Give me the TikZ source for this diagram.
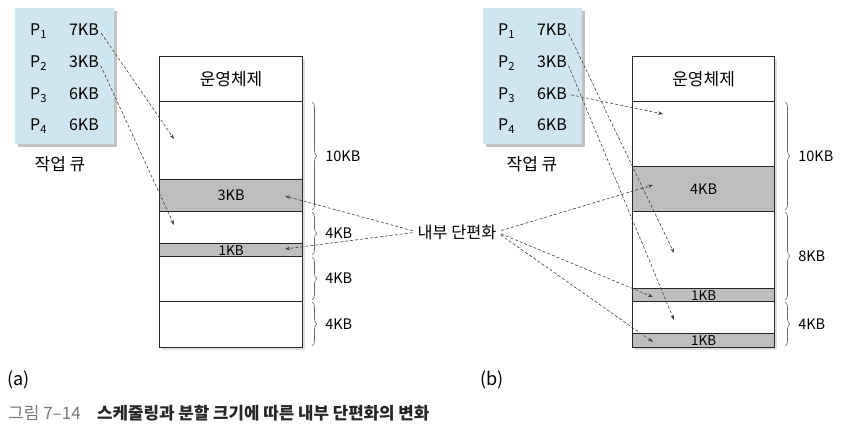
\documentclass[tikz,border=0pt]{standalone}
\usepackage{fontspec}
\setmainfont{Noto Sans CJK KR}
\usetikzlibrary{arrows.meta,decorations.pathreplacing,shadows}
\definecolor{qblue}{RGB}{207,229,239}
\definecolor{memgray}{RGB}{190,190,192}
\definecolor{capgray}{RGB}{120,120,120}
\newcommand{\fsz}[1]{\fontsize{#1}{#1}\selectfont}
\tikzset{
  mem/.style={draw=black!85, line width=1.2pt, minimum width=143pt, anchor=north west, inner sep=0pt, font=\fsz{14.5}},
  memw/.style={mem, fill=white},
  memg/.style={mem, fill=memgray},
  qbox/.style={fill=qblue, anchor=north west, minimum width=99pt, minimum height=136pt, inner sep=0pt,
    drop shadow={shadow xshift=2.5pt, shadow yshift=-2.5pt, opacity=0.4, fill=black!60}},
  qt/.style={inner sep=0pt, font=\fsz{16}},
  darr/.style={dash pattern=on 3pt off 2pt, draw=black!75, line width=0.6pt, -{Stealth[length=5pt,width=3.5pt]}},
  brc/.style={decorate, decoration={brace, amplitude=5pt}, draw=black!60, line width=0.6pt},
  lbl/.style={font=\fsz{14.5}, inner sep=0pt, anchor=west},
}
\begin{document}
\begin{tikzpicture}[x=1pt,y=-1pt]
\useasboundingbox (0,0) rectangle (842,434);
% ---------- (a) queue ----------
\node[qbox] (qa) at (15,8) {};
\node[qt, anchor=west] (pa1) at (30,31) {P\textsubscript{1}};
\node[qt, anchor=west] (pa2) at (30,63) {P\textsubscript{2}};
\node[qt, anchor=west] (pa3) at (30,95) {P\textsubscript{3}};
\node[qt, anchor=west] (pa4) at (30,126) {P\textsubscript{4}};
\node[qt, anchor=east] (ka1) at (99,30) {7KB};
\node[qt, anchor=east] (ka2) at (99,62) {3KB};
\node[qt, anchor=east] (ka3) at (99,94) {6KB};
\node[qt, anchor=east] (ka4) at (99,125) {6KB};
\node[font=\fsz{17}, inner sep=0pt] (jqa) at (60,164) {작업 큐};
% ---------- (a) memory ----------
\fill[black!25, opacity=0.5] (161.5,58.5) rectangle (304.5,349.5);
\node[memw, minimum height=45pt, font=\fsz{17}] (osa) at (159,56) {운영체제};
\node[memw, minimum height=78pt] (ma1) at (159,101) {};
\node[memg, minimum height=32pt] (ma2) at (159,179) {3KB};
\node[memw, minimum height=32pt] (ma3) at (159,211) {};
\node[memg, minimum height=13pt, font=\fsz{13.5}] (ma4) at (159,243) {1KB};
\node[memw, minimum height=45pt] (ma5) at (159,256) {};
\node[memw, minimum height=46pt] (ma6) at (159,301) {};
% braces (a)
\draw[brc] (312,102) -- (312,210) node[lbl, midway, xshift=13pt] (la1) {10KB};
\draw[brc] (312,212) -- (312,255) node[lbl, midway, xshift=13pt] (la2) {4KB};
\draw[brc] (312,257) -- (312,300) node[lbl, midway, xshift=13pt] (la3) {4KB};
\draw[brc] (312,302) -- (312,346) node[lbl, midway, xshift=13pt] (la4) {4KB};
% ---------- (b) queue ----------
\node[qbox] (qb) at (483,8) {};
\node[qt, anchor=west] (pb1) at (498,31) {P\textsubscript{1}};
\node[qt, anchor=west] (pb2) at (498,63) {P\textsubscript{2}};
\node[qt, anchor=west] (pb3) at (498,95) {P\textsubscript{3}};
\node[qt, anchor=west] (pb4) at (498,126) {P\textsubscript{4}};
\node[qt, anchor=east] (kb1) at (567,30) {7KB};
\node[qt, anchor=east] (kb2) at (567,62) {3KB};
\node[qt, anchor=east] (kb3) at (567,94) {6KB};
\node[qt, anchor=east] (kb4) at (567,125) {6KB};
\node[font=\fsz{17}, inner sep=0pt] (jqb) at (532,164) {작업 큐};
% ---------- (b) memory ----------
\fill[black!25, opacity=0.5] (634.5,58.5) rectangle (776.5,349.5);
\node[memw, minimum height=45pt, minimum width=142pt, font=\fsz{17}] (osb) at (632,56) {운영체제};
\node[memw, minimum height=65pt, minimum width=142pt] (mb1) at (632,101) {};
\node[memg, minimum height=45pt, minimum width=142pt] (mb2) at (632,166) {4KB};
\node[memw, minimum height=77pt, minimum width=142pt] (mb3) at (632,211) {};
\node[memg, minimum height=13pt, minimum width=142pt, font=\fsz{13.5}] (mb4) at (632,288) {1KB};
\node[memw, minimum height=32pt, minimum width=142pt] (mb5) at (632,301) {};
\node[memg, minimum height=14pt, minimum width=142pt, font=\fsz{13.5}] (mb6) at (632,333) {1KB};
% braces (b)
\draw[brc] (785,102) -- (785,210) node[lbl, midway, xshift=13pt] (lb1) {10KB};
\draw[brc] (785,212) -- (785,300) node[lbl, midway, xshift=13pt] (lb2) {8KB};
\draw[brc] (785,302) -- (785,346) node[lbl, midway, xshift=13pt] (lb3) {4KB};
% ---------- internal fragmentation ----------
\node[font=\fsz{16.3}, inner sep=0pt] (frag) at (457,232) {내부 단편화};
\coordinate (ta1) at (174,139);
\coordinate (ta2) at (174,225);
\coordinate (fa1) at (285,196);
\coordinate (fa2) at (285,249);
\coordinate (tb1) at (674,253);
\coordinate (tb2) at (674,320);
\coordinate (tb3) at (663,114);
\coordinate (fb1) at (653,185);
\coordinate (fb2) at (653,297);
\coordinate (fb3) at (653,342);
\draw[darr, shorten <=4pt] (ka1.east) -- (ta1);
\draw[darr, shorten <=4pt] (ka2.east) -- (ta2);
\draw[darr, shorten <=5pt] (frag.west) -- (fa1);
\draw[darr, shorten <=5pt] (frag.west) -- (fa2);
\draw[darr, shorten <=4pt] (kb1.east) -- (tb1);
\draw[darr, shorten <=4pt] (kb2.east) -- (tb2);
\draw[darr, shorten <=4pt] (kb3.east) -- (tb3);
\draw[darr, shorten <=5pt] (frag.east) -- (fb1);
\draw[darr, shorten <=5pt] (frag.east) -- (fb2);
\draw[darr, shorten <=5pt] (frag.east) -- (fb3);
% ---------- labels ----------
\node[font=\fsz{18}, inner sep=0pt, anchor=west] (suba) at (7,380) {(a)};
\node[font=\fsz{18}, inner sep=0pt, anchor=west] (subb) at (480,380) {(b)};
\node[font=\fsz{17}, inner sep=0pt, anchor=west, text=capgray] (capnum) at (8,413) {그림 7–14};
\node[font=\bfseries\fsz{16.8}, inner sep=0pt, anchor=west, text=black!85] (captxt) at (97,413) {스케줄링과 분할 크기에 따른 내부 단편화의 변화};
\end{tikzpicture}
\end{document}
